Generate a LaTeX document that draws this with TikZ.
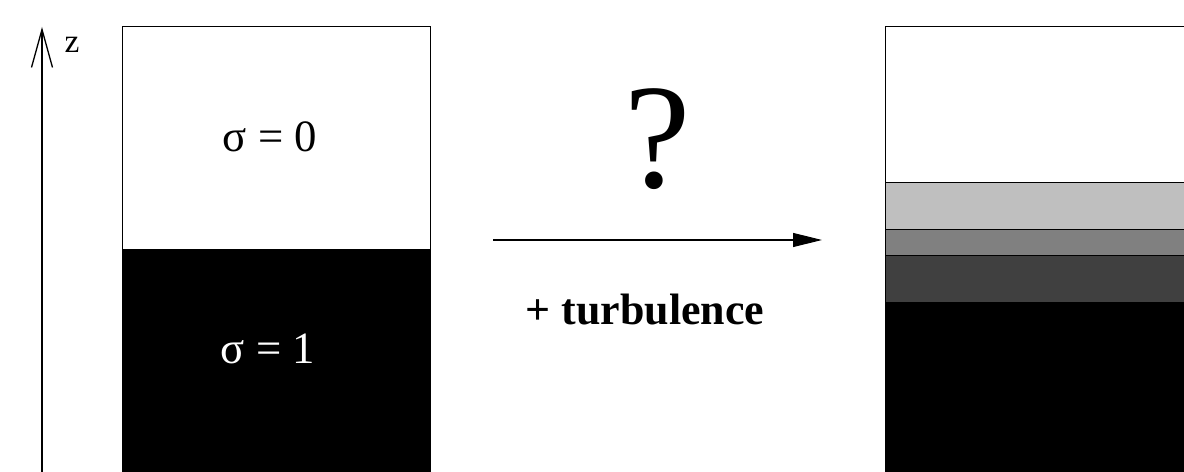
\documentclass[tikz,border=0pt]{standalone}
\usepackage{fontspec}
\setmainfont{Liberation Serif}
\usetikzlibrary{arrows.meta}
\begin{document}
\begin{tikzpicture}[x=0.02cm,y=-0.02cm,
  band/.style={draw=black,line width=0.45pt},
  bigtxt/.style={font=\fontsize{25.5}{30}\selectfont,inner sep=0pt}]
\useasboundingbox (0,0) rectangle (1184,472);
% axis
\coordinate (axb) at (42,472);
\coordinate (axt) at (42,27);
\draw[line width=0.75pt,-{Straight Barb[length=0.76cm,width=0.42cm,line width=0.75pt]}] (axb) -- (axt);
\node[font=\fontsize{19}{22}\selectfont,inner sep=0pt] (z) at (72,45) {z};
% left column
\path[band,fill=white] (122,26) rectangle (430,249);
\path[band,fill=black] (122,249) rectangle (430,472);
\node[bigtxt] (s0) at (270,137) {σ = 0};
\node[bigtxt,text=white] (s1) at (268,349) {σ = 1};
% middle
\node[font=\fontsize{85}{90}\selectfont,inner sep=0pt] (q) at (658,139) {?};
\coordinate (ar1) at (493,240);
\coordinate (ar2) at (822,240);
\draw[line width=0.6pt,-{Triangle[length=0.58cm,width=0.28cm]}] (ar1) -- (ar2);
\node[bigtxt,font=\fontsize{25}{30}\selectfont\bfseries] (turb) at (645,310) {+ turbulence};
% right column
\path[band,fill=white] (885,26) rectangle (1190,182);
\path[band,fill=black!25] (885,182) rectangle (1190,229);
\path[band,fill=black!50] (885,229) rectangle (1190,255);
\path[band,fill=black!75] (885,255) rectangle (1190,302);
\path[band,fill=black] (885,302) rectangle (1190,480);
\end{tikzpicture}
\end{document}
